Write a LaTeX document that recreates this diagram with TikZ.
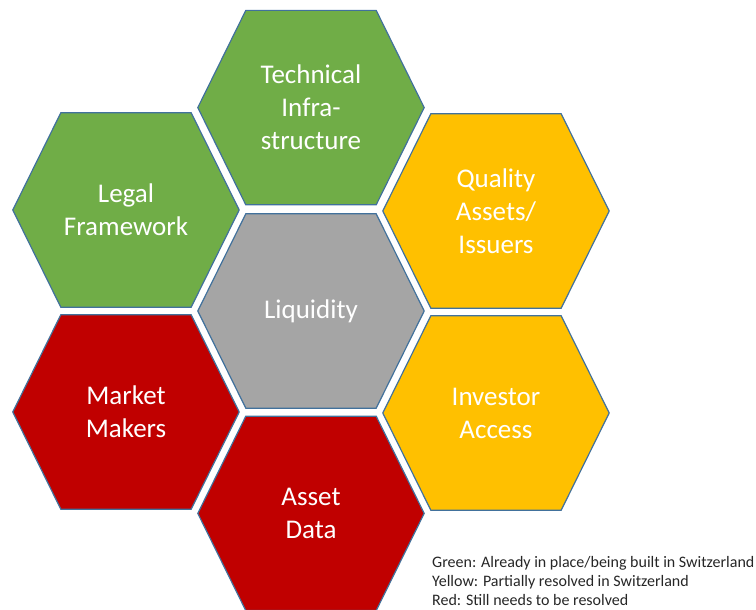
\documentclass[tikz,border=0pt]{standalone}
\usepackage{fontspec}
\setmainfont{Carlito}
\usetikzlibrary{positioning,backgrounds}

\definecolor{hexgreen}{HTML}{70AD47}
\definecolor{hexyellow}{HTML}{FFC000}
\definecolor{hexred}{HTML}{C00000}
\definecolor{hexgray}{HTML}{A5A5A5}
\definecolor{hexblue}{HTML}{41719C}

\begin{document}
\begin{tikzpicture}[
x = 1pt, y = 1pt,
node distance = 8pt and 72pt,
hex/.style={rectangle, minimum width=226pt, minimum height=194pt, inner sep=0pt, align=center, text=white, font=\fontsize{27}{33}\selectfont},
hexline/.style={draw=hexblue, line width=1.2pt, line join=miter},
legend/.style={rectangle, inner sep=0pt, anchor=north west, align=left, text=black!85, font=\fontsize{16}{19}\selectfont}]

\useasboundingbox (-311,-299) rectangle (445,311);

\node[hex] (liq) at (0,0) {Liquidity};
\node[hex] (tech) [above = 9pt of liq] {Technical\\Infra-\\structure};
\node[hex] (asset) [below = 8pt of liq] {Asset\\Data};

\node[hex] (legal) at (-185,101) {Legal\\Framework};
\node[hex] (market) at (-185,-101) {Market\\Makers};
\node[hex] (quality) at (185,100) {Quality\\Assets/\\Issuers};
\node[hex] (investor) at (185,-102) {Investor\\Access};

\node[legend] (key) at (121,-245) {Green: Already in place/being built in Switzerland\\Yellow: Partially resolved in Switzerland\\Red: Still needs to be resolved};

\begin{scope}[on background layer]
\foreach \n/\c in {liq/hexgray, tech/hexgreen, legal/hexgreen, quality/hexyellow, investor/hexyellow, market/hexred, asset/hexred}
  \filldraw[hexline, fill=\c] (\n.west) -- ([xshift=48pt]\n.north west) -- ([xshift=-48pt]\n.north east) -- (\n.east) -- ([xshift=-48pt]\n.south east) -- ([xshift=48pt]\n.south west) -- cycle;
\end{scope}
\end{tikzpicture}
\end{document}
